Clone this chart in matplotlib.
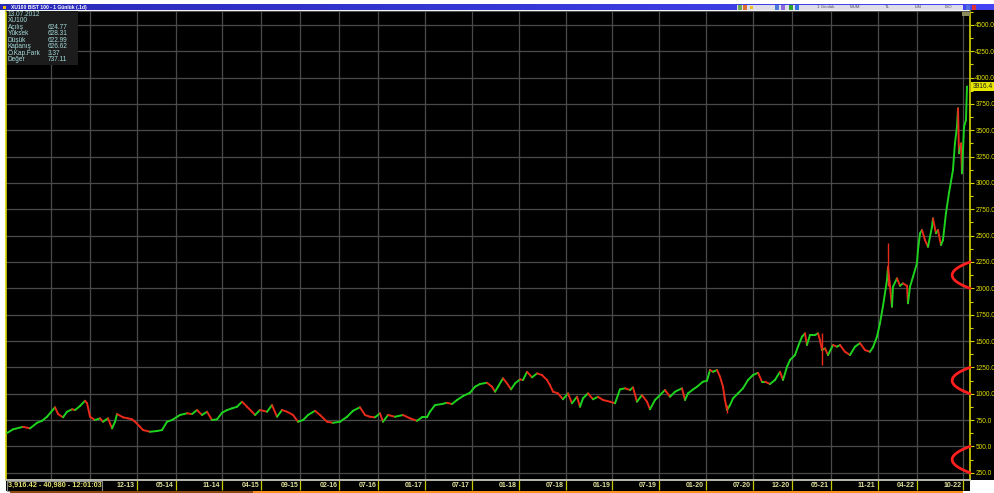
import numpy as np
import matplotlib
matplotlib.use("Agg")
import matplotlib.pyplot as plt
from matplotlib.collections import LineCollection
from matplotlib.patches import Rectangle
from matplotlib.colors import LinearSegmentedColormap
from matplotlib.transforms import ScaledTranslation, blended_transform_factory
from matplotlib.ticker import MultipleLocator, FixedLocator, FormatStrFormatter

plt.rcParams['font.family'] = ['Liberation Sans', 'DejaVu Sans']

# ---------------- data ----------------
years = [
    2012.532, 2012.596, 2012.703, 2012.778, 2012.853, 2012.906, 2012.959, 2013.045, 2013.077, 2013.130,
    2013.173, 2013.227, 2013.259, 2013.312, 2013.365, 2013.387, 2013.419, 2013.472, 2013.526, 2013.558,
    2013.611, 2013.654, 2013.686, 2013.707, 2013.771, 2013.825, 2013.868, 2013.900, 2013.953, 2013.985,
    2014.060, 2014.135, 2014.188, 2014.241, 2014.295, 2014.380, 2014.455, 2014.509, 2014.562, 2014.615,
    2014.669, 2014.722, 2014.776, 2014.829, 2014.883, 2014.936, 2014.989, 2015.043, 2015.096, 2015.150,
    2015.182, 2015.235, 2015.310, 2015.363, 2015.417, 2015.470, 2015.524, 2015.588, 2015.641, 2015.695,
    2015.748, 2015.823, 2015.876, 2015.951, 2016.015, 2016.090, 2016.165, 2016.229, 2016.303, 2016.357,
    2016.410, 2016.464, 2016.517, 2016.549, 2016.603, 2016.677, 2016.763, 2016.838, 2016.912, 2016.966,
    2017.019, 2017.051, 2017.105, 2017.180, 2017.233, 2017.286, 2017.340, 2017.404, 2017.479, 2017.532,
    2017.586, 2017.660, 2017.714, 2017.746, 2017.778, 2017.831, 2017.874, 2017.917, 2017.960, 2018.013,
    2018.045, 2018.088, 2018.141, 2018.195, 2018.248, 2018.301, 2018.333, 2018.366, 2018.419, 2018.472,
    2018.526, 2018.568, 2018.622, 2018.654, 2018.686, 2018.739, 2018.793, 2018.846, 2018.900, 2018.974,
    2019.028, 2019.081, 2019.135, 2019.188, 2019.220, 2019.263, 2019.316, 2019.370, 2019.402, 2019.455,
    2019.509, 2019.562, 2019.616, 2019.669, 2019.744, 2019.776, 2019.808, 2019.861, 2019.904, 2019.968,
    2020.011, 2020.043, 2020.075, 2020.118, 2020.150, 2020.182, 2020.203, 2020.225, 2020.257, 2020.289,
    2020.342, 2020.395, 2020.449, 2020.502, 2020.556, 2020.598, 2020.631, 2020.684, 2020.737, 2020.791,
    2020.823, 2020.866, 2020.898, 2020.951, 2020.983, 2021.026, 2021.058, 2021.079, 2021.111, 2021.165,
    2021.197, 2021.218, 2021.240, 2021.272, 2021.304, 2021.357, 2021.400, 2021.432, 2021.485, 2021.539,
    2021.592, 2021.646, 2021.699, 2021.752, 2021.784, 2021.827, 2021.859, 2021.891, 2021.934, 2021.945,
    2021.966, 2021.987, 2021.998, 2022.041, 2022.073, 2022.105, 2022.148, 2022.158, 2022.180, 2022.212,
    2022.254, 2022.265, 2022.287, 2022.308, 2022.340, 2022.372, 2022.415, 2022.425, 2022.457, 2022.479,
    2022.511, 2022.532, 2022.564, 2022.596, 2022.639, 2022.660, 2022.682, 2022.693, 2022.703, 2022.725,
    2022.735, 2022.757, 2022.778, 2022.789,
]
closes = [
    627, 662, 686, 671, 724, 743, 781, 871, 807, 776,
    829, 852, 845, 883, 933, 909, 781, 750, 766, 734,
    766, 671, 734, 807, 776, 766, 757, 734, 686, 655,
    639, 646, 655, 734, 750, 798, 814, 807, 845, 798,
    829, 750, 757, 819, 845, 861, 876, 924, 876, 829,
    798, 845, 829, 892, 781, 845, 829, 798, 734, 750,
    798, 838, 798, 734, 724, 734, 781, 838, 871, 798,
    781, 776, 814, 734, 798, 781, 798, 766, 743, 776,
    776, 829, 892, 902, 914, 902, 940, 978, 1009, 1066,
    1092, 1104, 1066, 1019, 1066, 1146, 1098, 1041, 1098, 1136,
    1130, 1208, 1155, 1193, 1177, 1130, 1082, 1019, 1003, 947,
    1003, 909, 971, 876, 956, 1003, 947, 971, 940, 924,
    909, 1041, 1051, 1035, 1060, 924, 987, 924, 852, 940,
    987, 1035, 971, 1019, 1051, 940, 1003, 1040, 1066, 1114,
    1123, 1225, 1208, 1225, 1161, 1066, 940, 845, 892, 956,
    1003, 1051, 1130, 1177, 1199, 1114, 1114, 1092, 1130, 1208,
    1130, 1256, 1320, 1367, 1446, 1541, 1573, 1462, 1557, 1557,
    1573, 1509, 1414, 1430, 1367, 1462, 1446, 1462, 1398, 1367,
    1446, 1480, 1414, 1398, 1440, 1541, 1668, 1830, 2079, 2205,
    2024, 1825, 2015, 2095, 2024, 2047, 2024, 1858, 2015, 2110,
    2237, 2363, 2522, 2553, 2458, 2394, 2584, 2664, 2522, 2553,
    2411, 2458, 2712, 2902, 3123, 3376, 3533, 3708, 3281, 3376,
    3091, 3533, 3597, 3916,
]
# a few long wicks visible on the chart
wick_years = [2020.225, 2021.240, 2021.945]
wick_lows = [820, 1272, 2024]
wick_highs = [892, 1573, 2430]

date_labels = ["01-13", "06-13", "12-13", "05-14", "11-14", "04-15", "09-15", "02-16", "07-16",
               "01-17", "07-17", "01-18", "07-18", "01-19", "07-19", "01-20", "07-20", "12-20",
               "05-21", "11-21", "04-22", "10-22"]
hidden_labels = ["01-13", "06-13"]   # covered by the status box in the screenshot

info_date = "13.07.2012"
info_symbol = "XU100"
info_labels = ["Açılış", "Yüksek", "Düşük", "Kapanış", "Ö.Kap.Fark", "Değer"]
info_values = ["624.77", "628.31", "622.99", "626.62", "3.37", "737.11"]
status_text = "3,916.42 - 40,980 - 12:01:03"
last_price = 3916.4
title_text = "XU100 BIST 100 - 1 Günlük (.1d)"
toolbar_items = ["1 Günlük", "MUM", "TL", "LIN", "B/O"]
bracket_ranges = [(2000, 2250), (1000, 1250), (250, 500)]

# ---------------- figure ----------------
W, H = 994, 493
fig = plt.figure(figsize=(W / 100, H / 100), dpi=100, facecolor="white")


def fx(px):
    return px / W


def fy(py):
    return 1 - py / H


def frect(x0, y0, x1, y1, color, z=-1):
    fig.add_artist(Rectangle((fx(x0), fy(y1)), fx(x1) - fx(x0), (y1 - y0) / H,
                             transform=fig.transFigure, facecolor=color,
                             edgecolor="none", zorder=z))


# black right-axis panel and date bar background
frect(970, 10, 994, 480, "black", z=-2)
frect(6, 480, 970, 491, "black", z=-2)

ax = fig.add_axes([fx(6), fy(480), fx(970) - fx(6), (480 - 11) / H])
ax.set_facecolor("black")
ax.set_xlim(2012.521, 2022.821)
ax.set_ylim(181, 4632)

# grid
tick_years = [2000 + int(s[3:]) + (int(s[:2]) - 1) / 12 for s in date_labels]
ax.xaxis.set_major_locator(FixedLocator(tick_years))
ax.set_xticklabels(["" if s in hidden_labels else s for s in date_labels])
ax.yaxis.set_major_locator(MultipleLocator(250))
ax.yaxis.set_minor_locator(MultipleLocator(125))
ax.yaxis.set_major_formatter(FormatStrFormatter("%.1f"))
ax.grid(True, which="major", color="#4a4a4a", lw=0.9)
ax.set_axisbelow(True)

# right axis
ax.yaxis.tick_right()
ax.tick_params(axis="y", which="major", colors="#d8d800", length=3, width=0.8, pad=0.8,
               labelsize=4.7, labelcolor="#e0e000")
ax.tick_params(axis="y", which="minor", colors="#d8d800", length=2, width=0.8)

# bottom date axis
ax.tick_params(axis="x", which="major", direction="out", colors="#c8c800", length=7.5,
               width=0.9, pad=-6.0, labelsize=5.0, labelcolor="#e2e2a0")
for lab in ax.get_xticklabels():
    lab.set_ha("right")
    lab.set_fontweight("bold")
    lab.set_transform(lab.get_transform() + ScaledTranslation(-1.5 / 72, 0, fig.dpi_scale_trans))

for side, col, lw in [("left", "#d4d400", 1.2), ("right", "#d4d400", 1.2),
                      ("bottom", "#c8c8c0", 1.3), ("top", "#505050", 0.8)]:
    ax.spines[side].set_color(col)
    ax.spines[side].set_linewidth(lw)

# price line, coloured by direction
t = np.asarray(years)
c = np.asarray(closes, dtype=float)
pts = np.column_stack([t, c])
segs = np.stack([pts[:-1], pts[1:]], axis=1)
cols = np.where(np.diff(c) >= 0, "#1ed21e", "#e82a1a")
ax.add_collection(LineCollection(segs, colors=cols, linewidths=1.4, capstyle="round", zorder=3))
ax.vlines(wick_years, wick_lows, wick_highs, colors="#e82a1a", lw=1.0, zorder=3)

# red hand-drawn brackets at the right edge
btrans = blended_transform_factory(ax.transAxes, ax.transData)
s = np.linspace(-1, 1, 60)
for lo, hi in bracket_ranges:
    xs = 1 - 0.0185 * (1 - s ** 2)
    ys = (lo + hi) / 2 + s * (hi - lo) / 2
    ax.plot(xs, ys, transform=btrans, color="#ff1f1f", lw=2.0, solid_capstyle="round",
            clip_on=False, zorder=5)

# info box (top-left)
frect(6.5, 11, 78, 65, "#1c1c1c", z=2)
info_col = "#a6dcdc"
fig.text(fx(7.5), fy(14.3), info_date, fontsize=4.7, color=info_col, va="center", zorder=3)
fig.text(fx(7.5), fy(20.6), info_symbol, fontsize=4.7, color=info_col, va="center", zorder=3)
for i, (lab, val) in enumerate(zip(info_labels, info_values)):
    yy = 27.2 + i * 6.55
    fig.text(fx(7.5), fy(yy), lab, fontsize=4.7, color=info_col, va="center", zorder=3)
    fig.text(fx(48), fy(yy), val, fontsize=4.7, color=info_col, va="center", zorder=3)

# last price tag
frect(971, 82, 994, 91, "#e6e600", z=3)
fig.text(fx(972.5), fy(86.6), f"{last_price:.1f}", fontsize=4.8, color="#202020", va="center", zorder=4)
frect(962, 12, 970, 15.5, "#8a8a58", z=3)

# status box bottom-left
fig.add_artist(Rectangle((fx(7), fy(490.5)), fx(102) - fx(7), 9.5 / H, transform=fig.transFigure,
                         facecolor="black", edgecolor="#8c8c8c", lw=0.8, zorder=3))
fig.text(fx(8), fy(485.8), status_text, fontsize=5.3, fontweight="bold", color="#e0e070",
         va="center", zorder=4)

# scrollbar strip
frect(10, 491, 253, 493, "#8a4a12", z=3)
frect(253, 491, 963, 493, "#ff9020", z=3)

# title bar
axt = fig.add_axes([0, fy(10.5), 1, 6.2 / H])
axt.imshow(np.linspace(0, 1, 256)[None, :], aspect="auto", extent=[0, 1, 0, 1],
           cmap=LinearSegmentedColormap.from_list("tb", ["#2a2ab8", "#4444f4"]))
axt.set_xlim(0, 1)
axt.set_ylim(0, 1)
axt.axis("off")
axt.add_patch(Rectangle((fx(737), 0.05), fx(963) - fx(737), 0.9, facecolor="#dedee8", edgecolor="none"))
axt.add_patch(Rectangle((fx(2.5), 0.25), fx(3.5), 0.5, facecolor="#f0c000", edgecolor="none"))
axt.text(fx(11), 0.5, title_text, fontsize=3.6, color="white", fontweight="bold", va="center")
for xp, col in [(738, "#6aa84f"), (743, "#e07030"), (775, "#4a7ad8"), (781, "#8a6ad8"),
                (789, "#30a030"), (795, "#3070e0"), (966, "#5070e0"), (972, "#e03030")]:
    axt.add_patch(Rectangle((fx(xp), 0.15), fx(4), 0.7, facecolor=col, edgecolor="none"))
axt.add_patch(Rectangle((fx(750), 0.3), fx(3), 0.4, facecolor="#f0c020", edgecolor="none"))
for xp, txt in zip([817, 850, 885, 915, 945], toolbar_items):
    axt.text(fx(xp), 0.5, txt, fontsize=3.2, color="#505060", va="center")

fig.savefig("out.png", dpi=100, facecolor="white")
